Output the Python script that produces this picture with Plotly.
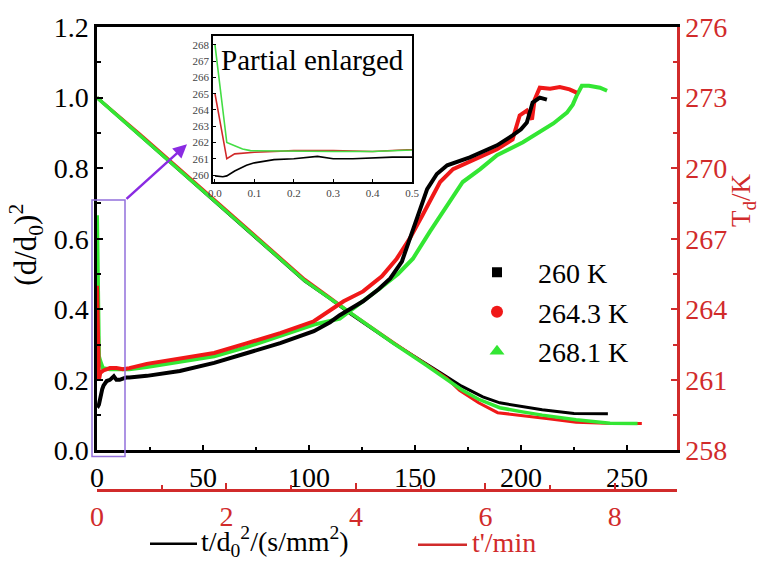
import plotly.graph_objects as go

# ---------------- data ----------------
# Normalised squared diameter vs normalised time t/d0^2 (s/mm^2)
t_norm_260 = [0, 20, 40, 60, 80, 98, 110, 120, 140, 155, 162, 172, 182, 190, 200, 210, 225, 241]
d2_260 = [1.0, 0.895, 0.788, 0.682, 0.576, 0.48, 0.43, 0.385, 0.303, 0.245, 0.22, 0.182, 0.152, 0.135, 0.124, 0.115, 0.105, 0.104]

t_norm_264 = [0, 20, 40, 60, 80, 98, 110, 120, 140, 155, 165, 171, 180, 189, 200, 213, 226, 240, 257]
d2_264 = [1.0, 0.898, 0.792, 0.686, 0.58, 0.485, 0.433, 0.388, 0.305, 0.245, 0.205, 0.17, 0.135, 0.107, 0.1, 0.09, 0.08, 0.077, 0.076]

t_norm_268 = [0, 20, 40, 60, 80, 98, 110, 120, 140, 155, 165, 172, 180, 190, 200, 210, 226, 242, 255]
d2_268 = [1.0, 0.895, 0.789, 0.683, 0.577, 0.481, 0.43, 0.385, 0.303, 0.243, 0.2, 0.172, 0.145, 0.121, 0.11, 0.1, 0.087, 0.077, 0.076]

# Droplet temperature T_d (K) vs time t' (min)
tm_260 = [0.00, 0.02, 0.03, 0.05, 0.08, 0.10, 0.15, 0.20, 0.26, 0.30, 0.35, 0.40, 0.45, 0.50,
          0.77, 1.28, 1.81, 2.32, 2.83, 3.35, 3.60, 3.75, 4.11, 4.35, 4.53, 4.71, 4.83, 4.94,
          5.10, 5.25, 5.41, 5.76, 6.18, 6.42, 6.55, 6.64, 6.73, 6.84, 6.95]
td_260 = [259.95, 259.9, 259.95, 260.25, 260.6, 260.75, 260.95, 261.0, 261.15, 261.0, 261.0, 261.05, 261.1, 261.1,
          261.17, 261.38, 261.72, 262.14, 262.56, 263.07, 263.45, 263.75, 264.34, 264.85, 265.31, 266.03, 267.0, 267.84,
          269.11, 269.75, 270.12, 270.46, 270.97, 271.39, 271.65, 271.94, 272.79, 273.0, 272.91]

tm_264 = [0.00, 0.015, 0.03, 0.05, 0.10, 0.20, 0.30, 0.40, 0.50,
          0.77, 1.28, 1.81, 2.32, 2.83, 3.35, 3.81, 4.11, 4.40, 4.63, 4.83, 5.03, 5.30, 5.50,
          5.81, 6.18, 6.42, 6.53, 6.64, 6.72, 6.76, 6.84, 7.00, 7.15, 7.30, 7.41]
td_264 = [265.0, 263.0, 261.0, 261.3, 261.4, 261.5, 261.5, 261.45, 261.5,
          261.68, 261.89, 262.14, 262.56, 262.99, 263.49, 264.34, 264.76, 265.4, 266.15, 267.0, 268.01, 269.41, 269.96,
          270.34, 270.8, 271.22, 272.24, 272.45, 272.07, 272.91, 273.42, 273.38, 273.45, 273.35, 273.21]

tm_268 = [0.00, 0.01, 0.03, 0.05, 0.07, 0.09, 0.20, 0.30, 0.40, 0.50,
          0.77, 1.28, 1.81, 2.32, 2.83, 3.35, 3.75, 4.05, 4.37, 4.65, 4.88, 5.14, 5.41, 5.65,
          5.92, 6.18, 6.58, 6.89, 7.05, 7.26, 7.35, 7.41, 7.49, 7.60, 7.77, 7.88]
td_268 = [268.0, 266.0, 262.0, 261.8, 261.6, 261.5, 261.45, 261.45, 261.45, 261.45,
          261.55, 261.75, 262.0, 262.4, 262.85, 263.35, 263.6, 264.2, 264.89, 265.5, 266.15, 267.29, 268.43, 269.41,
          269.96, 270.55, 271.1, 271.6, 271.9, 272.36, 272.7, 273.08, 273.5, 273.5, 273.42, 273.29]

series_names = ["260 K", "264.3 K", "268.1 K"]

# ---------------- style ----------------
BLACK = "#000000"
RED = "#F01818"
GREEN = "#33E633"
AXRED = "#D12B2B"
PURPLE_BOX = "#9370DB"
PURPLE_ARROW = "#8A2BE2"
FONT = "Liberation Serif, Times New Roman, serif"

W, H = 761, 561
ML, MR, MT, MB = 97, 84, 24, 40
PW = W - ML - MR
PH = H - MT - MB


def px(x):
    return (x - ML) / PW


def py(y):
    return (H - MB - y) / PH


y_bottom = py(450)

fig = go.Figure()

# decreasing (d/d0)^2 curves
for t, v, c, w in [(t_norm_260, d2_260, BLACK, 3), (t_norm_264, d2_264, RED, 3), (t_norm_268, d2_268, GREEN, 3.5)]:
    fig.add_trace(go.Scatter(x=t, y=v, mode="lines", line=dict(color=c, width=w),
                             xaxis="x", yaxis="y", showlegend=False, hoverinfo="skip"))

# rising temperature curves
for t, v, c in [(tm_268, td_268, GREEN), (tm_264, td_264, RED), (tm_260, td_260, BLACK)]:
    fig.add_trace(go.Scatter(x=t, y=v, mode="lines", line=dict(color=c, width=4),
                             xaxis="x2", yaxis="y2", showlegend=False, hoverinfo="skip"))

# inset: early temperature history
for t, v, c in [(tm_260, td_260, BLACK), (tm_264, td_264, "#D02828"), (tm_268, td_268, "#44DD44")]:
    fig.add_trace(go.Scatter(x=t, y=v, mode="lines", line=dict(color=c, width=1.6),
                             xaxis="x3", yaxis="y3", showlegend=False, hoverinfo="skip"))

# legend entries
for name, c, sym, sz in [(series_names[0], BLACK, "square", 10),
                         (series_names[1], RED, "circle", 12),
                         (series_names[2], GREEN, "triangle-up", 13)]:
    fig.add_trace(go.Scatter(x=[None], y=[None], mode="markers", name=name,
                             marker=dict(color=c, symbol=sym, size=sz),
                             xaxis="x", yaxis="y"))

tick_font = dict(family=FONT, size=28, color=BLACK)
red_font = dict(family=FONT, size=28, color=AXRED)

fig.update_layout(
    width=W, height=H,
    margin=dict(l=ML, r=MR, t=MT, b=MB),
    paper_bgcolor="white", plot_bgcolor="rgba(0,0,0,0)",
    font=dict(family=FONT, size=28, color=BLACK),
    xaxis=dict(range=[0, 273.6], anchor="y", dtick=50, tick0=0, ticks="inside", ticklen=6, tickwidth=2,
               minor=dict(dtick=25, ticks="inside", ticklen=4, tickwidth=2, tickcolor=BLACK),
               showline=True, linecolor=BLACK, linewidth=2.5, mirror=True, showgrid=False, zeroline=False,
               tickfont=tick_font, tickcolor=BLACK),
    xaxis2=dict(range=[0, 8.96], overlaying="x", anchor="free", position=py(490), side="bottom",
                dtick=2, tick0=0, ticks="inside", ticklen=6, tickwidth=2, tickcolor=AXRED,
                minor=dict(dtick=1, ticks="inside", ticklen=4, tickwidth=2, tickcolor=AXRED),
                showline=True, linecolor=AXRED, linewidth=2.5, showgrid=False, zeroline=False,
                tickfont=red_font),
    yaxis=dict(domain=[y_bottom, 1], range=[0, 1.2], dtick=0.2, tick0=0, tickformat=".1f",
               ticks="inside", ticklen=6, tickwidth=2, tickcolor=BLACK,
               minor=dict(dtick=0.1, ticks="inside", ticklen=4, tickwidth=2, tickcolor=BLACK),
               showline=True, linecolor=BLACK, linewidth=2.5, showgrid=False, zeroline=False,
               tickfont=tick_font, anchor="x"),
    yaxis2=dict(range=[258, 276], overlaying="y", side="right", anchor="x2", dtick=3, tick0=258,
                ticks="inside", ticklen=6, tickwidth=2, tickcolor=AXRED,
                minor=dict(dtick=1.5, ticks="inside", ticklen=4, tickwidth=2, tickcolor=AXRED),
                showline=True, linecolor=AXRED, linewidth=2.5, showgrid=False, zeroline=False,
                tickfont=red_font),
    xaxis3=dict(domain=[px(213), px(412)], anchor="y3", range=[-0.005, 0.5], dtick=0.1, tick0=0,
                tickformat=".1f", ticks="inside", ticklen=3, tickwidth=1, tickcolor=BLACK,
                showline=True, linecolor=BLACK, linewidth=1.5, mirror=True, showgrid=False, zeroline=False,
                tickfont=dict(family=FONT, size=11, color="#444444")),
    yaxis3=dict(domain=[py(180), py(33)], anchor="x3", range=[259.57, 268.55], dtick=1, tick0=260,
                ticks="inside", ticklen=3, tickwidth=1, tickcolor=BLACK,
                showline=True, linecolor=BLACK, linewidth=1.5, mirror=True, showgrid=False, zeroline=False,
                tickfont=dict(family=FONT, size=11, color="#444444")),
    legend=dict(x=px(456), y=py(246), xanchor="left", yanchor="top", bgcolor="rgba(0,0,0,0)",
                font=dict(family=FONT, size=28, color=BLACK), itemwidth=72, tracegroupgap=0),
    showlegend=True,
)

shapes = [
    # zoom-region box
    dict(type="rect", xref="paper", yref="paper", x0=px(92), x1=px(125), y0=py(456), y1=py(198),
         line=dict(color=PURPLE_BOX, width=1.5), fillcolor="rgba(0,0,0,0)"),
    # axis-title line keys
    dict(type="line", xref="paper", yref="paper", x0=px(150), x1=px(197), y0=py(544), y1=py(544),
         line=dict(color=BLACK, width=2.5)),
    dict(type="line", xref="paper", yref="paper", x0=px(418), x1=px(467), y0=py(545), y1=py(545),
         line=dict(color=AXRED, width=2.5)),
]
fig.update_layout(shapes=shapes)

annotations = [
    dict(text="Partial enlarged", xref="paper", yref="paper", x=px(312), y=py(57),
         xanchor="center", yanchor="middle", showarrow=False, font=dict(family=FONT, size=29, color=BLACK)),
    dict(text="(d/d<sub>0</sub>)<sup>2</sup>", xref="paper", yref="paper", x=px(26), y=py(243),
         xanchor="center", yanchor="middle", textangle=-90, showarrow=False,
         font=dict(family=FONT, size=31, color=BLACK)),
    dict(text="T<sub>d</sub>/K", xref="paper", yref="paper", x=px(743), y=py(198),
         xanchor="center", yanchor="middle", textangle=-90, showarrow=False,
         font=dict(family=FONT, size=27, color=AXRED)),
    dict(text="t/d<sub>0</sub><sup>2</sup>/(s/mm<sup>2</sup>)", xref="paper", yref="paper",
         x=px(199), y=py(542), xanchor="left", yanchor="middle", showarrow=False,
         font=dict(family=FONT, size=28, color=BLACK)),
    dict(text="t'/min", xref="paper", yref="paper", x=px(470), y=py(543), xanchor="left", yanchor="middle",
         showarrow=False, font=dict(family=FONT, size=28, color=AXRED)),
    dict(text="", xref="paper", yref="paper", x=px(187), y=py(142), ax=125 - 187, ay=198 - 142,
         showarrow=True, arrowhead=2, arrowsize=1.1, arrowwidth=2.5, arrowcolor=PURPLE_ARROW),
]
fig.update_layout(annotations=annotations)

fig.write_html("out.html")
